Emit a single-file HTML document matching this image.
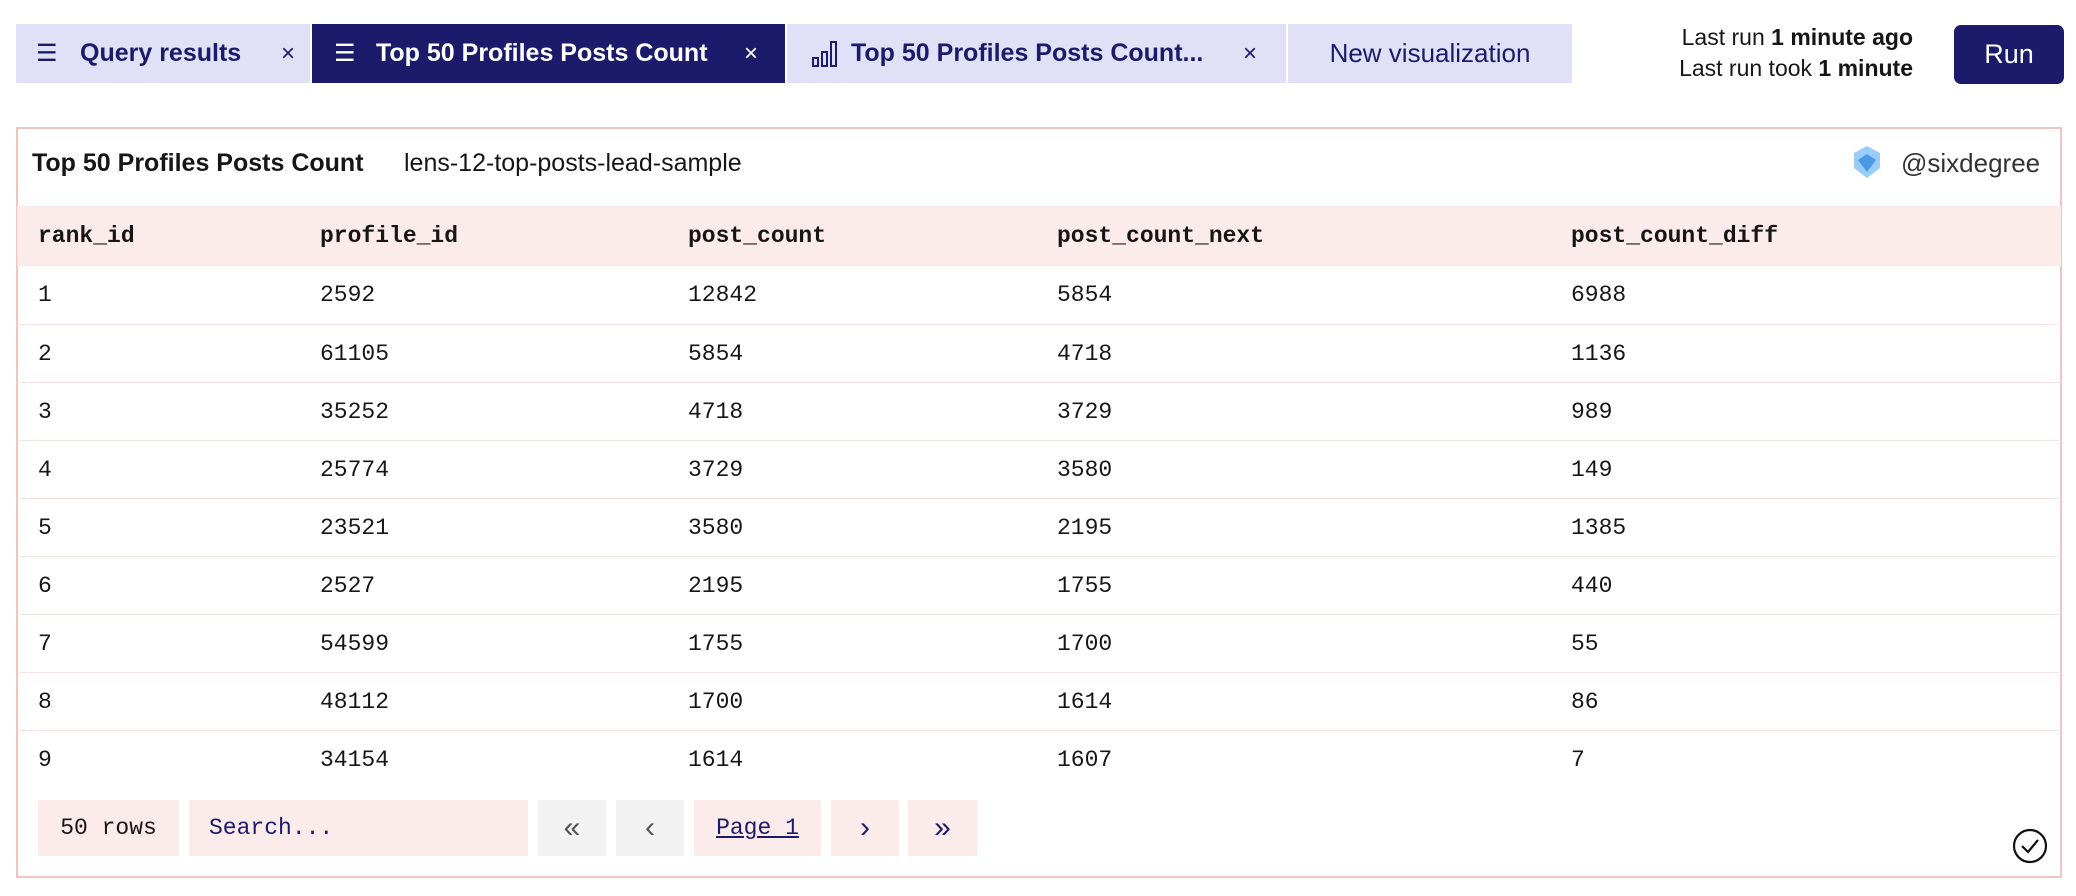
<!DOCTYPE html>
<html><head><meta charset="utf-8"><style>
*{margin:0;padding:0;box-sizing:border-box}
body{width:2076px;height:896px;background:#fff;position:relative;overflow:hidden;font-family:"Liberation Sans",sans-serif;color:#161616}
.a{position:absolute}
.tab{position:absolute;top:24px;height:59px;background:#e0e0f6;color:#1c1b6b;font-size:26px;line-height:59px;white-space:nowrap;overflow:hidden}
.mono{font-family:"Liberation Mono",monospace;font-size:23px}
.row{position:absolute;left:17px;width:2044px;height:58px;border-top:1px solid #f6e2e2}
.row span,.hdr span{position:absolute;top:0;line-height:58px}
.btn{position:absolute;top:800px;height:56px;background:#fcebeb;line-height:56px;text-align:center}
</style></head><body>
<div class="tab" style="left:16px;width:294px"><span class="a" style="left:20px;font-size:24px">☰</span><span class="a" style="left:64px;font-weight:bold;font-size:25px">Query results</span><span class="a" style="left:265px;font-size:24px">×</span></div>
<div class="tab" style="left:312px;width:473px;background:#1c1b6b;color:#fff"><span class="a" style="left:22px;font-size:24px">☰</span><span class="a" style="left:64px;font-weight:bold;font-size:25px">Top 50 Profiles Posts Count</span><span class="a" style="left:432px;font-size:24px">×</span></div>
<div class="tab" style="left:787px;width:499px"><svg class="a" style="left:24px;top:16px" width="28" height="28" viewBox="0 0 28 28" fill="none" stroke="#1c1b6b" stroke-width="2"><rect x="2" y="18" width="5" height="8"/><rect x="11" y="12" width="5" height="14"/><rect x="20" y="2" width="5" height="24"/></svg><span class="a" style="left:64px;font-weight:bold;font-size:25px">Top 50 Profiles Posts Count...</span><span class="a" style="left:456px;font-size:24px">×</span></div>
<div class="tab" style="left:1288px;width:284px;text-align:center;font-size:26px">New visualization</div>
<div class="a" style="right:163px;top:22px;font-size:23px;text-align:right;line-height:31px">Last run <b>1 minute ago</b><br>Last run took <b>1 minute</b></div>
<div class="a" style="left:1954px;top:25px;width:110px;height:59px;background:#1c1b6b;color:#fff;border-radius:7px;font-size:27px;line-height:59px;text-align:center">Run</div>

<div class="a" style="left:16px;top:127px;width:2046px;height:751px;border:2px solid #f2c4bf"></div>
<div class="a" style="left:32px;top:146px;font-size:25px;font-weight:bold;line-height:34px">Top 50 Profiles Posts Count</div>
<div class="a" style="left:404px;top:146px;font-size:25px;line-height:34px">lens-12-top-posts-lead-sample</div>
<svg class="a" style="left:1850px;top:144px" width="34" height="36" viewBox="0 0 34 36"><path d="M17 2 L30 9 L30 24 L17 34 L4 24 L4 9Z" fill="#7fc0f5" opacity=".8"/><path d="M17 10 L26 16 L17 28 L8 16Z" fill="#3a8be0" opacity=".8"/></svg>
<div class="a" style="left:1901px;top:146px;font-size:26px;line-height:34px;color:#333">@sixdegree</div>

<div class="a hdr mono" style="left:17px;top:206px;width:2044px;height:60px;background:#fcebeb;font-weight:bold">
<span style="left:21px;line-height:60px">rank_id</span><span style="left:303px;line-height:60px">profile_id</span><span style="left:671px;line-height:60px">post_count</span><span style="left:1040px;line-height:60px">post_count_next</span><span style="left:1554px;line-height:60px">post_count_diff</span></div>

<div class="row mono" style="top:266px;border-top:none"><span style="left:21px">1</span><span style="left:303px">2592</span><span style="left:671px">12842</span><span style="left:1040px">5854</span><span style="left:1554px">6988</span></div>
<div class="row mono" style="top:324px"><span style="left:21px">2</span><span style="left:303px">61105</span><span style="left:671px">5854</span><span style="left:1040px">4718</span><span style="left:1554px">1136</span></div>
<div class="row mono" style="top:382px"><span style="left:21px">3</span><span style="left:303px">35252</span><span style="left:671px">4718</span><span style="left:1040px">3729</span><span style="left:1554px">989</span></div>
<div class="row mono" style="top:440px"><span style="left:21px">4</span><span style="left:303px">25774</span><span style="left:671px">3729</span><span style="left:1040px">3580</span><span style="left:1554px">149</span></div>
<div class="row mono" style="top:498px"><span style="left:21px">5</span><span style="left:303px">23521</span><span style="left:671px">3580</span><span style="left:1040px">2195</span><span style="left:1554px">1385</span></div>
<div class="row mono" style="top:556px"><span style="left:21px">6</span><span style="left:303px">2527</span><span style="left:671px">2195</span><span style="left:1040px">1755</span><span style="left:1554px">440</span></div>
<div class="row mono" style="top:614px"><span style="left:21px">7</span><span style="left:303px">54599</span><span style="left:671px">1755</span><span style="left:1040px">1700</span><span style="left:1554px">55</span></div>
<div class="row mono" style="top:672px"><span style="left:21px">8</span><span style="left:303px">48112</span><span style="left:671px">1700</span><span style="left:1040px">1614</span><span style="left:1554px">86</span></div>
<div class="row mono" style="top:730px"><span style="left:21px">9</span><span style="left:303px">34154</span><span style="left:671px">1614</span><span style="left:1040px">1607</span><span style="left:1554px">7</span></div>

<div class="btn mono" style="left:38px;width:141px">50 rows</div>
<div class="btn mono" style="left:189px;width:339px;text-align:left;padding-left:20px;color:#1c1b6b">Search...</div>
<div class="btn" style="left:538px;width:68px;background:#f2f2f2;color:#555;font-size:30px">«</div>
<div class="btn" style="left:616px;width:68px;background:#f2f2f2;color:#555;font-size:30px">‹</div>
<div class="btn mono" style="left:694px;width:127px;color:#1c1b6b;text-decoration:underline">Page 1</div>
<div class="btn" style="left:831px;width:68px;color:#1c1b6b;font-size:30px">›</div>
<div class="btn" style="left:908px;width:69px;color:#1c1b6b;font-size:30px">»</div>
<svg class="a" style="left:2012px;top:828px" width="36" height="36" viewBox="0 0 36 36" fill="none" stroke="#111" stroke-width="2.2"><circle cx="18" cy="18" r="16"/><path d="M10 18 L16 24 L26 12"/></svg>
</body></html>
